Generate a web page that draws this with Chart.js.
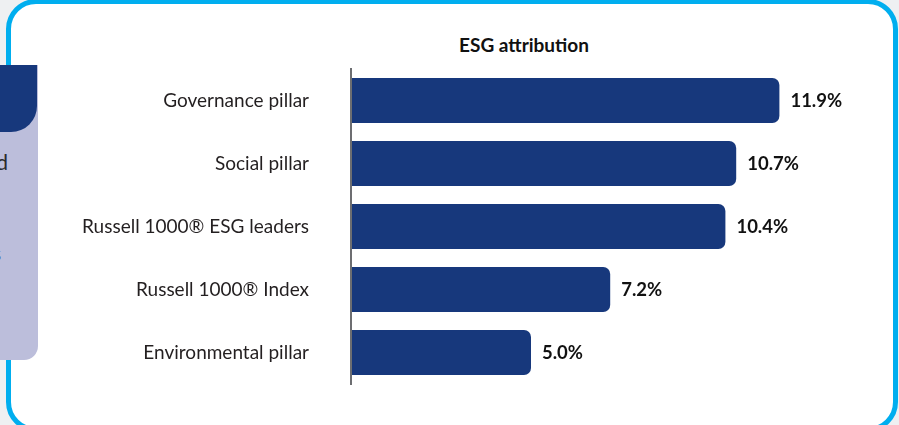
<!DOCTYPE html>
<html>
<head>
<meta charset="utf-8">
<script src="https://cdn.jsdelivr.net/npm/chart.js@4.4.1/dist/chart.umd.min.js"></script>
<style>
  html, body { margin: 0; padding: 0; }
  body { width: 899px; height: 425px; overflow: hidden; background: #eef0f2; position: relative; font-family: "Lato", sans-serif; }
  .card { position: absolute; left: 6px; top: -1px; width: 882px; height: 423px; border: 5px solid #00aeef; border-radius: 30px; background: #fff; }
  .panel { position: absolute; left: 0; top: 65px; width: 38px; height: 295px; background: #bcbedb; border-bottom-right-radius: 14px; overflow: hidden; }
  .tab { position: absolute; left: 0; top: 0; width: 37px; height: 67px; background: #17387c; border-bottom-right-radius: 26px; }
  .panel-text { position: absolute; width: 68px; left: -60px; text-align: right; font-size: 21px; line-height: 24px; color: #2b2b2b; }
  .title { position: absolute; left: 374px; top: 34px; width: 300px; text-align: center; font-weight: bold; font-size: 19px; line-height: 22px; color: #111; }
  #chart { position: absolute; left: 0; top: 0; }
</style>
</head>
<body>
<div class="card"></div>
<div class="panel">
  <div class="tab"></div>
  <div class="panel-text" style="top: 85px;">and</div>
  <div class="panel-text" style="top: 176px; left: -67px;">is</div>
</div>
<div class="title">ESG attribution</div>
<canvas id="chart" width="899" height="425"></canvas>
<script>
const categories = [
  "Governance pillar",
  "Social pillar",
  "Russell 1000® ESG leaders",
  "Russell 1000® Index",
  "Environmental pillar",
];
const values = [11.9, 10.7, 10.4, 7.2, 5.0];
const valueLabels = ["11.9%", "10.7%", "10.4%", "7.2%", "5.0%"];

// percent labels at the end of each bar
const valueLabelPlugin = {
  id: "valueLabels",
  afterDatasetsDraw(chart) {
    const ctx = chart.ctx;
    const meta = chart.getDatasetMeta(0);
    ctx.save();
    ctx.font = "bold 18.5px Lato";
    ctx.fillStyle = "#111";
    ctx.textBaseline = "middle";
    meta.data.forEach((bar, i) => {
      ctx.fillText(valueLabels[i], bar.x + 11, bar.y + 1);
    });
    ctx.restore();
  },
};

const ctx = document.getElementById("chart");
const chart = new Chart(ctx, {
  type: "bar",
  data: {
    labels: categories,
    datasets: [
      {
        data: values,
        backgroundColor: "#17387c",
        borderRadius: 7,
        borderSkipped: "start",
        barPercentage: 0.714,
        categoryPercentage: 1,
      },
    ],
  },
  options: {
    indexAxis: "y",
    responsive: false,
    animation: false,
    layout: {
      padding: { top: 69, bottom: 41, left: 0, right: 8 },
    },
    plugins: {
      legend: { display: false },
      tooltip: { enabled: false },
    },
    scales: {
      x: {
        display: false,
        min: 0,
        max: 15,
      },
      y: {
        grid: { display: false, drawTicks: false },
        border: { display: true, color: "#6d6e71", width: 2, z: 1 },
        ticks: {
          color: "#231f20",
          padding: 42,
          font: { family: "Lato", size: 19 },
        },
        afterFit(scale) {
          scale.width = 351;
          // tick padding should not shrink the plot vertically
          scale.paddingTop = 0;
          scale.paddingBottom = 0;
        },
      },
    },
  },
  plugins: [valueLabelPlugin],
});
</script>
</body>
</html>
